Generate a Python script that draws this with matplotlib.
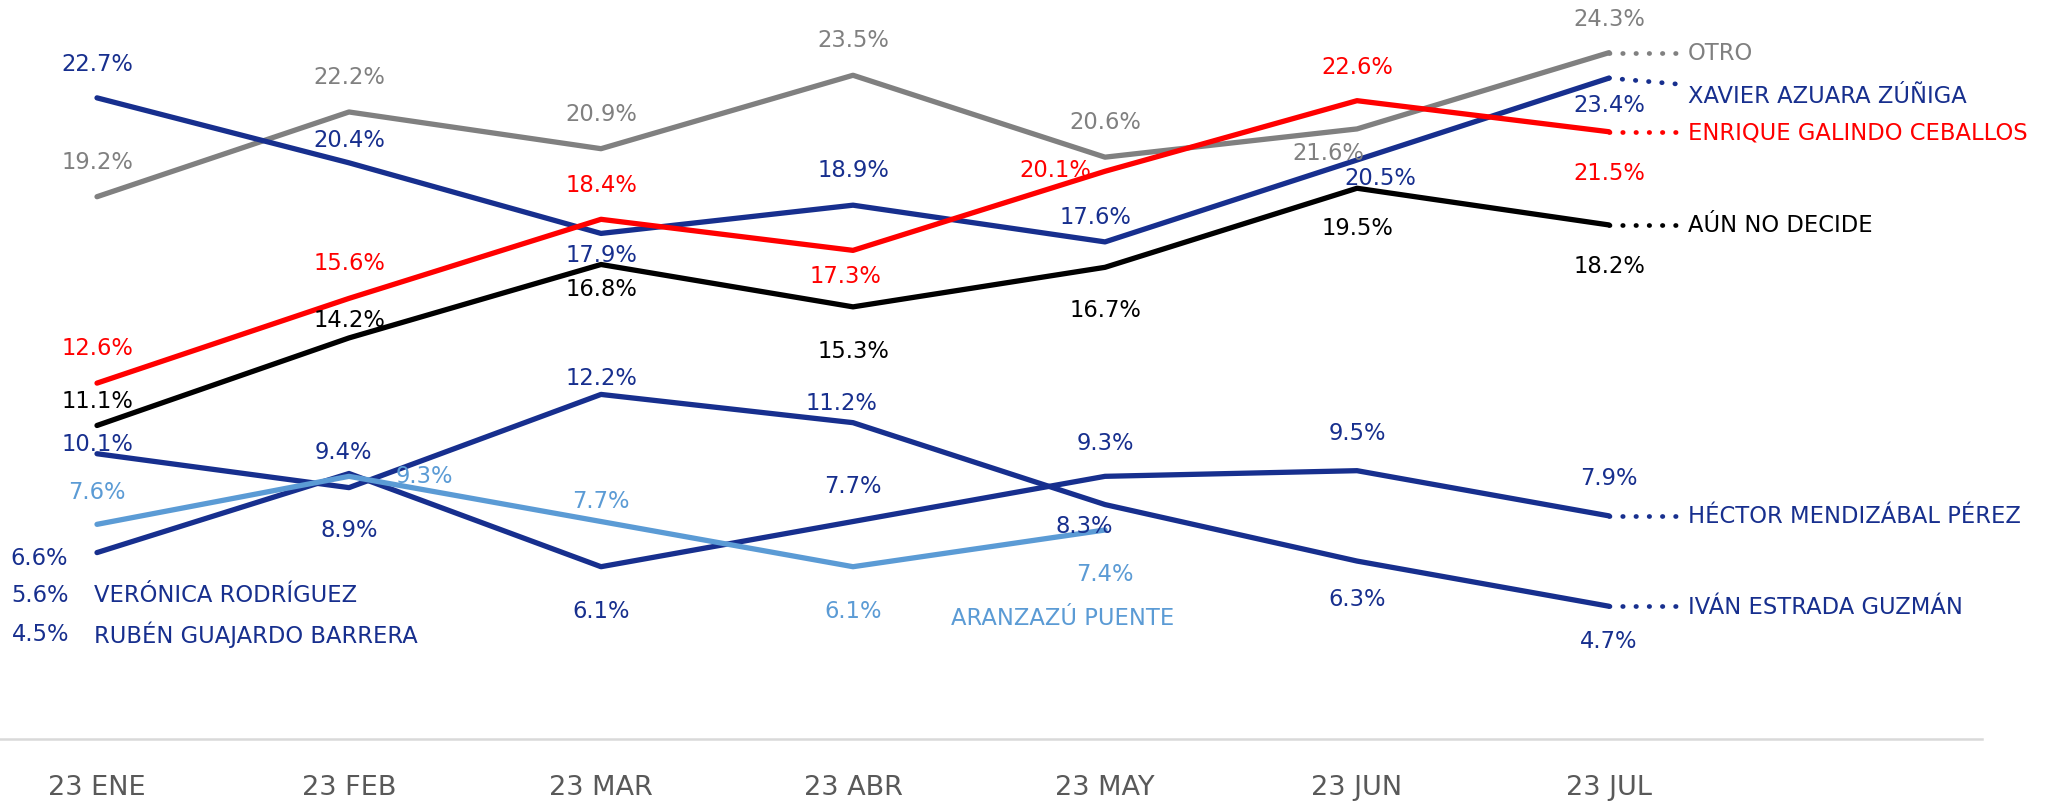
import numpy as np
import matplotlib.pyplot as plt

plt.rcParams['font.family'] = ['DejaVu Sans']

months = ["23 ENE", "23 FEB", "23 MAR", "23 ABR", "23 MAY", "23 JUN", "23 JUL"]

otro = [19.2, 22.2, 20.9, 23.5, 20.6, 21.6, 24.3]
xavier = [22.7, 20.4, 17.9, 18.9, 17.6, 20.5, 23.4]
enrique = [12.6, 15.6, 18.4, 17.3, 20.1, 22.6, 21.5]
aun_no = [11.1, 14.2, 16.8, 15.3, 16.7, 19.5, 18.2]
ivan = [10.1, 8.9, 12.2, 11.2, 8.3, 6.3, 4.7]
hector = [6.6, 9.4, 6.1, 7.7, 9.3, 9.5, 7.9]
aranzazu = [7.6, 9.3, 7.7, 6.1, 7.4]
veronica = 5.6
ruben = 4.5

GRAY = "#808080"
BLUE = "#172F8E"
RED = "#FF0000"
BLACK = "#000000"
LBLUE = "#5B9BD5"

# label offsets (roughly px of the reference), converted to points below
k = 0.95
off_otro = [(0, 27), (0, 27), (0, 27), (0, 27), (0, 27), (-22, -18), (0, 26)]
off_xavier = [(0, 26), (0, 18), (0, -16), (0, 27), (-7, 19), (18, -13), (0, -20)]
off_enrique = [(0, 27), (0, 27), (0, 26), (-6, -19), (-38, 1), (0, 26), (0, -31)]
off_aun = [(0, 19), (0, 14), (0, -18), (0, -33), (0, -32), (0, -30), (0, -31)]
off_ivan = [(0, 8), (0, -32), (0, 13), (-9, 15), (-16, -16), (0, -28), (0, -26)]
off_hector = [(-44, -4), (-4, 17), (0, -33), (0, 27), (0, 26), (0, 29), (0, 29)]
off_aranzazu = [(0, 25), (57, 1), (0, 16), (0, -33), (0, -33)]

series = [
    (otro, GRAY, off_otro, "OTRO", 0.0),
    (xavier, BLUE, off_xavier, "XAVIER AZUARA ZÚÑIGA", -0.6),
    (enrique, RED, off_enrique, "ENRIQUE GALINDO CEBALLOS", 0.0),
    (aun_no, BLACK, off_aun, "AÚN NO DECIDE", 0.0),
    (ivan, BLUE, off_ivan, "IVÁN ESTRADA GUZMÁN", 0.0),
    (hector, BLUE, off_hector, "HÉCTOR MENDIZÁBAL PÉREZ", 0.0),
    (aranzazu, LBLUE, off_aranzazu, None, 0.0),
]

fig = plt.figure(figsize=(20.65, 8.03), dpi=100)
ax = fig.add_axes([0, 63 / 803, 1982 / 2065, 740 / 803])
step = 252.0
ax.set_xlim(-97 / step, -97 / step + 1982 / step)
ax.set_ylim(0, 26.2)

lab_fs = 16.3
for vals, col, offs, name, dy_name in series:
    xs = np.arange(len(vals))
    ax.plot(xs, vals, color=col, lw=3.8, solid_capstyle='round', zorder=3)
    for xi, v, (dx, dy) in zip(xs, vals, offs):
        ax.annotate(f"{v:.1f}%", (xi, v), xytext=(dx * k, dy * k),
                    textcoords='offset points', ha='center', va='center',
                    color=col, fontsize=lab_fs, zorder=4)
    if name:
        last = vals[-1]
        ax.plot([6, 6.27], [last, last + dy_name * 0.35], color=col, lw=3.4,
                ls=(0, (0.1, 2.7)), dash_capstyle='round', zorder=3)
        ax.text(6.313, last + dy_name, name, color=col, fontsize=lab_fs,
                ha='left', va='center', clip_on=False)

ax.text(3.83, aranzazu[-1] - 3.1, "ARANZAZÚ PUENTE", color=LBLUE,
        fontsize=lab_fs, ha='center', va='center')

for v, name, dy in [(veronica, "VERÓNICA RODRÍGUEZ", -10), (ruben, "RUBÉN GUAJARDO BARRERA", -16.5)]:
    ax.annotate(f"{v:.1f}%", (0, v), xytext=(-43 * k, dy * k), textcoords='offset points',
                ha='center', va='center', color=BLUE, fontsize=lab_fs)
    ax.annotate(name, (0, v), xytext=(-2 * k, dy * k), textcoords='offset points',
                ha='left', va='center', color=BLUE, fontsize=lab_fs)

ax.set_xticks(np.arange(len(months)))
ax.set_xticklabels(months, fontsize=19.5, color="#595959")
ax.tick_params(axis='x', length=0, pad=25)
ax.set_yticks([])
for s in ['top', 'left', 'right']:
    ax.spines[s].set_visible(False)
ax.spines['bottom'].set_color("#D9D9D9")
ax.spines['bottom'].set_linewidth(1.8)

fig.savefig("out.png", dpi=100)
